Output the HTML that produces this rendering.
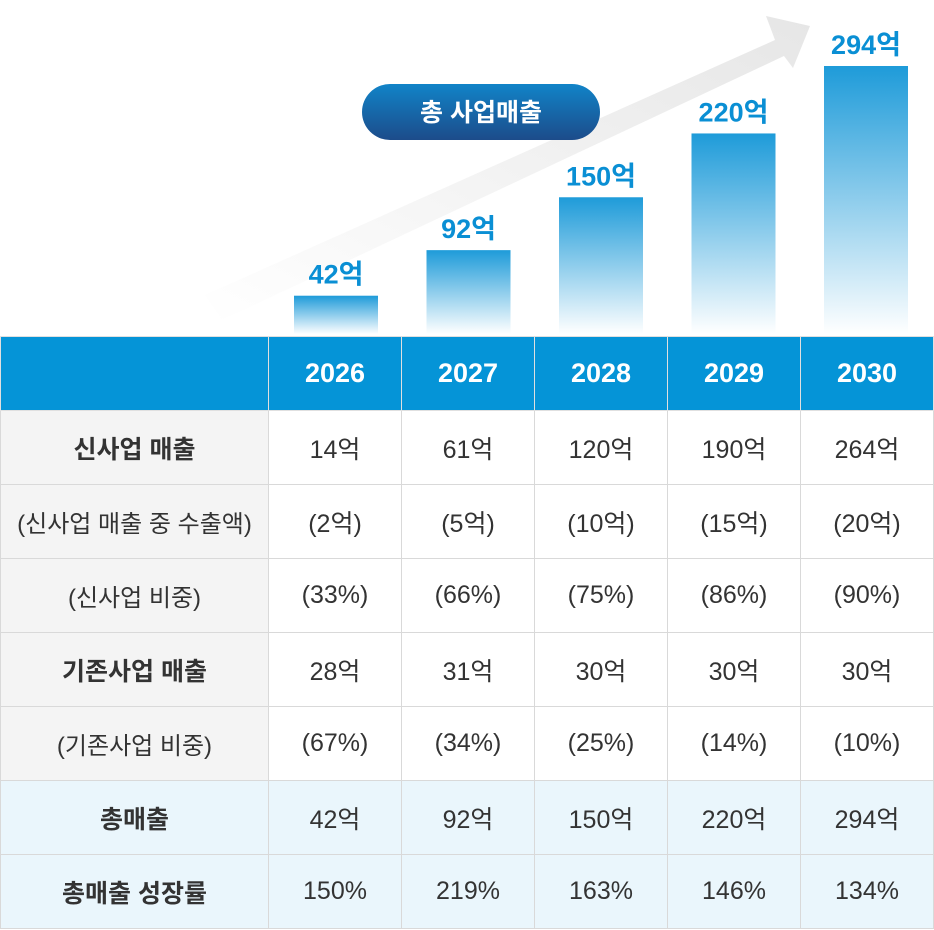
<!DOCTYPE html>
<html><head><meta charset="utf-8">
<style>
body{margin:0;width:934px;height:930px;background:#fff;font-family:"Liberation Sans","Noto Sans CJK KR",sans-serif;overflow:hidden;position:relative}
svg{position:absolute;left:0;top:0}
table{position:absolute;left:0;top:336px;border-collapse:collapse;width:934px;table-layout:fixed}
td,th{border:1.5px solid #d9d9d9;height:73px;text-align:center;font-size:25px;color:#333;padding:0}
th{background:#0594d7;color:#fff;font-size:27px;font-weight:bold;border-color:#e0e0e0}
td.h{background:#f4f4f4;font-weight:bold;color:#333}
td.h.n{font-weight:normal;font-size:24px}
tr.t td{background:#eaf6fc}
</style></head><body>
<svg width="934" height="340">
<defs>
<linearGradient id="bg" x1="0" y1="1" x2="0" y2="0"><stop offset="0" stop-color="#fff"/><stop offset="1" stop-color="#1e9bd9"/></linearGradient>
<linearGradient id="ag" x1="0" y1="1" x2="1" y2="0"><stop offset="0" stop-color="#fff"/><stop offset="1" stop-color="#e6e6e6"/></linearGradient>
<linearGradient id="pg" x1="0" y1="0" x2="0" y2="1"><stop offset="0" stop-color="#1184c8"/><stop offset="1" stop-color="#1c4c8a"/></linearGradient>
</defs>
<polygon points="205,295 775,40 766,16 810,26 793,68 784,56 222,320" fill="url(#ag)"/>
<rect x="362" y="84" width="238" height="56" rx="28" fill="url(#pg)"/>
<text x="481" y="121" text-anchor="middle" fill="#fff" font-size="25" font-weight="bold" font-family="Liberation Sans, Noto Sans CJK KR, sans-serif">총 사업매출</text>
<g id="bars"></g>
</svg>
<script>
const years=["2026","2027","2028","2029","2030"];
const totals=[42,92,150,220,294];
const g=document.getElementById('bars');
const ns="http://www.w3.org/2000/svg";
const base=334, scale=268/294;
function xPos(i){return 294+i*132.5;}
function yPos(v){return base-v*scale;}
totals.forEach((v,i)=>{
 const r=document.createElementNS(ns,'rect');
 
 
 r.setAttribute('x',xPos(i));r.setAttribute('y',yPos(v));r.setAttribute('width',84);r.setAttribute('height',base-yPos(v));r.setAttribute('fill','url(#bg)');
 g.appendChild(r);
 const t=document.createElementNS(ns,'text');
 
 
 t.setAttribute('x',xPos(i)+42);t.setAttribute('y',yPos(v)-12);t.setAttribute('text-anchor','middle');
 t.setAttribute('fill','#0a8fd4');t.setAttribute('font-size','27');t.setAttribute('font-weight','bold');
 t.setAttribute('font-family','Liberation Sans, Noto Sans CJK KR, sans-serif');
 t.textContent=v+'억';
 g.appendChild(t);
});
</script>
<table>
<colgroup><col style="width:268px"><col><col><col><col><col></colgroup>
<tr><th></th><th>2026</th><th>2027</th><th>2028</th><th>2029</th><th>2030</th></tr>
<tr><td class="h">신사업 매출</td><td>14억</td><td>61억</td><td>120억</td><td>190억</td><td>264억</td></tr>
<tr><td class="h n">(신사업 매출 중 수출액)</td><td>(2억)</td><td>(5억)</td><td>(10억)</td><td>(15억)</td><td>(20억)</td></tr>
<tr><td class="h n">(신사업 비중)</td><td>(33%)</td><td>(66%)</td><td>(75%)</td><td>(86%)</td><td>(90%)</td></tr>
<tr><td class="h">기존사업 매출</td><td>28억</td><td>31억</td><td>30억</td><td>30억</td><td>30억</td></tr>
<tr><td class="h n">(기존사업 비중)</td><td>(67%)</td><td>(34%)</td><td>(25%)</td><td>(14%)</td><td>(10%)</td></tr>
<tr class="t"><td class="h">총매출</td><td>42억</td><td>92억</td><td>150억</td><td>220억</td><td>294억</td></tr>
<tr class="t"><td class="h">총매출 성장률</td><td>150%</td><td>219%</td><td>163%</td><td>146%</td><td>134%</td></tr>
</table>
</body></html>
